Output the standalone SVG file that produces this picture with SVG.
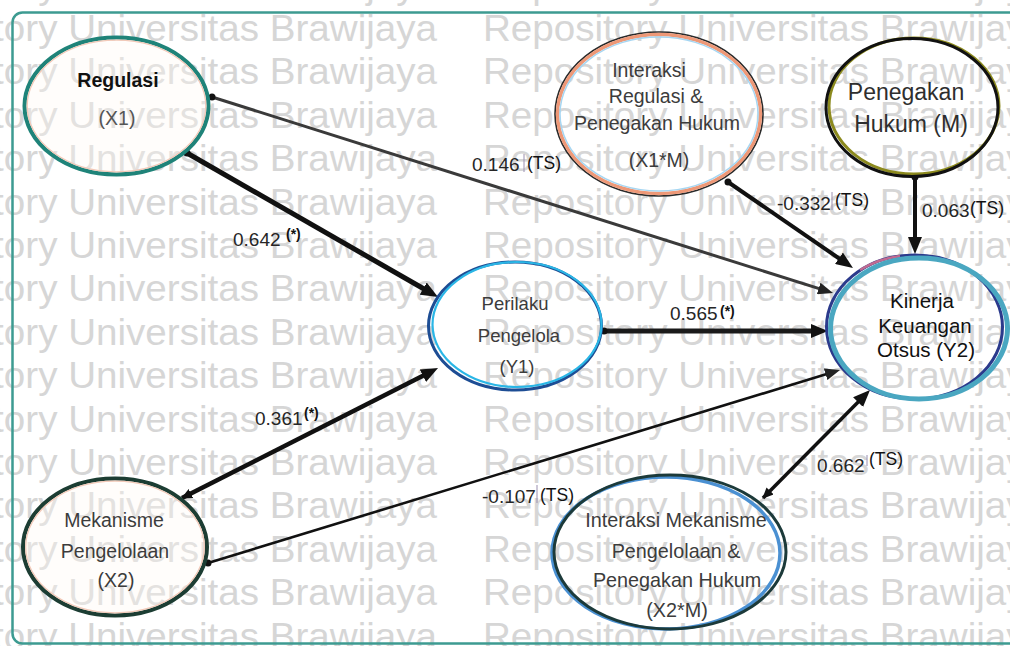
<svg xmlns="http://www.w3.org/2000/svg" xmlns:xlink="http://www.w3.org/1999/xlink" width="1010" height="646" viewBox="0 0 1010 646">
<style>
.wm{font-family:"Liberation Sans",Arial,sans-serif;font-size:37px;fill:#d6d6d6}
.nt{font-family:"Liberation Sans",Arial,sans-serif;font-size:19.5px;fill:#3c3c3c;text-anchor:middle}
.num{font-family:"Liberation Sans",Arial,sans-serif;font-size:19px;fill:#262626}
.ts{font-family:"Liberation Sans",Arial,sans-serif;font-size:17.5px;fill:#111}
.st{font-family:"Liberation Sans",Arial,sans-serif;font-size:14px;font-weight:bold;fill:#111}
.bar{stroke:#9a8fb0;stroke-width:1}
.e{fill:none;stroke-linecap:butt}
</style>
<defs>
<marker id="ah" markerUnits="userSpaceOnUse" markerWidth="17" markerHeight="14" refX="10" refY="7" orient="auto"><path d="M0,0 L17,7 L0,14 z" fill="#111"/></marker>
<marker id="ahs" markerUnits="userSpaceOnUse" markerWidth="15" markerHeight="12" refX="8" refY="6" orient="auto"><path d="M0,0 L15,6 L0,12 z" fill="#222"/></marker>
<marker id="dot" markerUnits="userSpaceOnUse" markerWidth="8" markerHeight="8" refX="4" refY="4"><circle cx="4" cy="4" r="3.5" fill="#111"/></marker>
<marker id="sa" markerUnits="userSpaceOnUse" markerWidth="11" markerHeight="10" refX="10" refY="5" orient="auto-start-reverse"><path d="M0,0 L11,5 L0,10 z" fill="#111"/></marker>
<g id="wmrow">
<text class="wm" x="-127" y="0" textLength="564" lengthAdjust="spacingAndGlyphs">Repository Universitas Brawijaya</text>
<text class="wm" x="483" y="0" textLength="564" lengthAdjust="spacingAndGlyphs">Repository Universitas Brawijaya</text>
</g>
</defs>
<rect x="0" y="0" width="1010" height="646" fill="#ffffff"/>
<g id="watermark">
<use xlink:href="#wmrow" y="-2.4"/>
<use xlink:href="#wmrow" y="41"/>
<use xlink:href="#wmrow" y="84.4"/>
<use xlink:href="#wmrow" y="127.8"/>
<use xlink:href="#wmrow" y="171.2"/>
<use xlink:href="#wmrow" y="214.6"/>
<use xlink:href="#wmrow" y="258"/>
<use xlink:href="#wmrow" y="301.4"/>
<use xlink:href="#wmrow" y="344.8"/>
<use xlink:href="#wmrow" y="388.2"/>
<use xlink:href="#wmrow" y="431.6"/>
<use xlink:href="#wmrow" y="475"/>
<use xlink:href="#wmrow" y="518.4"/>
<use xlink:href="#wmrow" y="561.8"/>
<use xlink:href="#wmrow" y="605.2"/>
<use xlink:href="#wmrow" y="648.6"/>
</g>
<rect id="frame" x="12.5" y="12.5" width="1010" height="631" rx="10" fill="none" stroke="#3d9b91" stroke-width="2.5"/>

<g id="connectors">
<g id="e-x1-y2">
<line class="e" x1="212" y1="97" x2="826.3" y2="290.9" stroke="#3a3a3a" stroke-width="3" marker-start="url(#dot)" marker-end="url(#ahs)"/>
<text class="num" x="472" y="171">0.146</text><line class="bar" x1="524" y1="154" x2="524" y2="172"/><text class="ts" x="527" y="169">(TS)</text>
</g>
<g id="e-x1-y1">
<line class="e" x1="187" y1="153" x2="431.9" y2="293.5" stroke="#111" stroke-width="5" marker-start="url(#dot)" marker-end="url(#ah)"/>
<text class="num" x="233" y="246">0.642</text><text class="st" x="286" y="239">(*)</text>
</g>
<g id="e-x2-y1">
<line class="e" x1="182" y1="498" x2="431.8" y2="371.2" stroke="#111" stroke-width="4.5" marker-start="url(#sa)" marker-end="url(#ah)"/>
<text class="num" x="255" y="425">0.361</text><text class="st" x="304" y="418">(*)</text>
</g>
<g id="e-y1-y2">
<line class="e" x1="604" y1="331" x2="821" y2="331" stroke="#1a1a1a" stroke-width="5" marker-start="url(#dot)" marker-end="url(#ah)"/>
<text class="num" x="670" y="320">0.565</text><text class="st" x="720" y="316">(*)</text>
</g>
<g id="e-x1m-y2">
<line class="e" x1="728" y1="182" x2="847.2" y2="264" stroke="#111" stroke-width="4" marker-start="url(#dot)" marker-end="url(#ah)"/>
<text class="num" x="777" y="210">-0.332</text><line class="bar" x1="832" y1="192" x2="832" y2="210"/><text class="ts" x="835" y="206">(TS)</text>
</g>
<g id="e-m-y2">
<line class="e" x1="915" y1="177" x2="915" y2="247" stroke="#111" stroke-width="4" marker-start="url(#dot)" marker-end="url(#ah)"/>
<text class="num" x="922" y="217">0.063</text><text class="ts" x="970" y="214">(TS)</text>
</g>
<g id="e-x2-y2">
<line class="e" x1="208" y1="563" x2="833.3" y2="372" stroke="#111" stroke-width="2.6" marker-start="url(#dot)" marker-end="url(#ahs)"/>
<text class="num" x="482" y="503">-0.107</text><line class="bar" x1="537" y1="485" x2="537" y2="503" stroke="#c9a070"/><text class="ts" x="540" y="501">(TS)</text>
</g>
<g id="e-x2m-y2">
<line class="e" x1="763" y1="498" x2="865.1" y2="395" stroke="#111" stroke-width="3.5" marker-start="url(#sa)" marker-end="url(#ah)"/>
<text class="num" x="817" y="472">0.662</text><line class="bar" x1="867" y1="455" x2="867" y2="466"/><text class="ts" x="869" y="465">(TS)</text>
</g>
</g>

<g id="node-x1">
<ellipse cx="116.5" cy="106" rx="92" ry="68.5" fill="#fffaf3" fill-opacity="0.35" stroke="#1f8379" stroke-width="4"/>
<ellipse cx="116.5" cy="106" rx="89.3" ry="65.8" fill="none" stroke="#f2c9b8" stroke-width="1.3"/>
<text class="nt" x="118" y="87" style="font-weight:bold;fill:#111">Regulasi</text>
<text class="nt" x="117" y="125" style="fill:#555">(X1)</text>
</g>

<g id="node-x2">
<ellipse cx="115" cy="547" rx="92" ry="68.5" fill="#fffaf3" fill-opacity="0.35" stroke="#1c3d33" stroke-width="4"/>
<ellipse cx="115" cy="547" rx="89.3" ry="65.8" fill="none" stroke="#f2c9b8" stroke-width="1.3"/>
<text class="nt" x="114" y="527">Mekanisme</text>
<text class="nt" x="115" y="558">Pengelolaan</text>
<text class="nt" x="116" y="587">(X2)</text>
</g>

<g id="node-y1">
<ellipse cx="515" cy="326" rx="86.5" ry="64" fill="none" stroke="#1d4d94" stroke-width="3"/>
<ellipse cx="517" cy="324.5" rx="84.5" ry="62.5" fill="none" stroke="#2ab6e6" stroke-width="2.2"/>
<text class="nt" x="515" y="310" style="font-size:18.5px">Perilaku</text>
<text class="nt" x="519" y="342" style="font-size:18.5px">Pengelola</text>
<text class="nt" x="517" y="373" style="font-size:18.5px">(Y1)</text>
</g>

<g id="node-x1m">
<ellipse cx="659" cy="114" rx="104" ry="82" fill="none" stroke="#2a2a2a" stroke-width="1.6"/>
<ellipse cx="659" cy="114" rx="101.5" ry="79.5" fill="none" stroke="#ee9877" stroke-width="3.4"/>
<ellipse cx="659" cy="114" rx="99" ry="77" fill="none" stroke="#a6d6f2" stroke-width="1.5"/>
<text class="nt" x="649" y="77">Interaksi</text>
<text class="nt" x="656" y="103">Regulasi &amp;</text>
<text class="nt" x="657" y="130">Penegakan Hukum</text>
<text class="nt" x="659" y="167">(X1*M)</text>
</g>

<g id="node-m">
<ellipse cx="914" cy="106" rx="85" ry="68" fill="none" stroke="#8c8a1e" stroke-width="3"/>
<ellipse cx="912" cy="107.5" rx="86" ry="69" fill="none" stroke="#111" stroke-width="3"/>
<text class="nt" x="906" y="100" style="font-size:23px;fill:#2e2e2e">Penegakan</text>
<text class="nt" x="911" y="132" style="font-size:23px;fill:#2e2e2e">Hukum (M)</text>
</g>

<g id="node-y2">
<ellipse cx="914.5" cy="327" rx="88" ry="72" fill="none" stroke="#2b3a8c" stroke-width="3"/>
<path d="M860,270 A88,72 0 0,1 900,256" fill="none" stroke="#c06a90" stroke-width="2.5"/>
<ellipse cx="919" cy="328.5" rx="88.5" ry="70.5" fill="#ffffff" fill-opacity="0" stroke="#4aa7c1" stroke-width="5"/>
<text class="nt" x="922" y="308" style="font-size:20.5px;fill:#111">Kinerja</text>
<text class="nt" x="925" y="333" style="font-size:20.5px;fill:#111">Keuangan</text>
<text class="nt" x="926" y="357" style="font-size:20.5px;fill:#111">Otsus (Y2)</text>
</g>

<g id="node-x2m">
<ellipse cx="666" cy="553" rx="114" ry="76" fill="none" stroke="#4a90d2" stroke-width="3.5"/>
<ellipse cx="670" cy="552" rx="116" ry="77" fill="none" stroke="#1c3a3a" stroke-width="3"/>
<text class="nt" x="676" y="527" style="font-size:19.8px">Interaksi Mekanisme</text>
<text class="nt" x="676" y="558" style="font-size:19.8px">Pengelolaan &amp;</text>
<text class="nt" x="677" y="587" style="font-size:19.8px">Penegakan Hukum</text>
<text class="nt" x="677" y="617" style="font-size:19.8px">(X2*M)</text>
</g>
</svg>
